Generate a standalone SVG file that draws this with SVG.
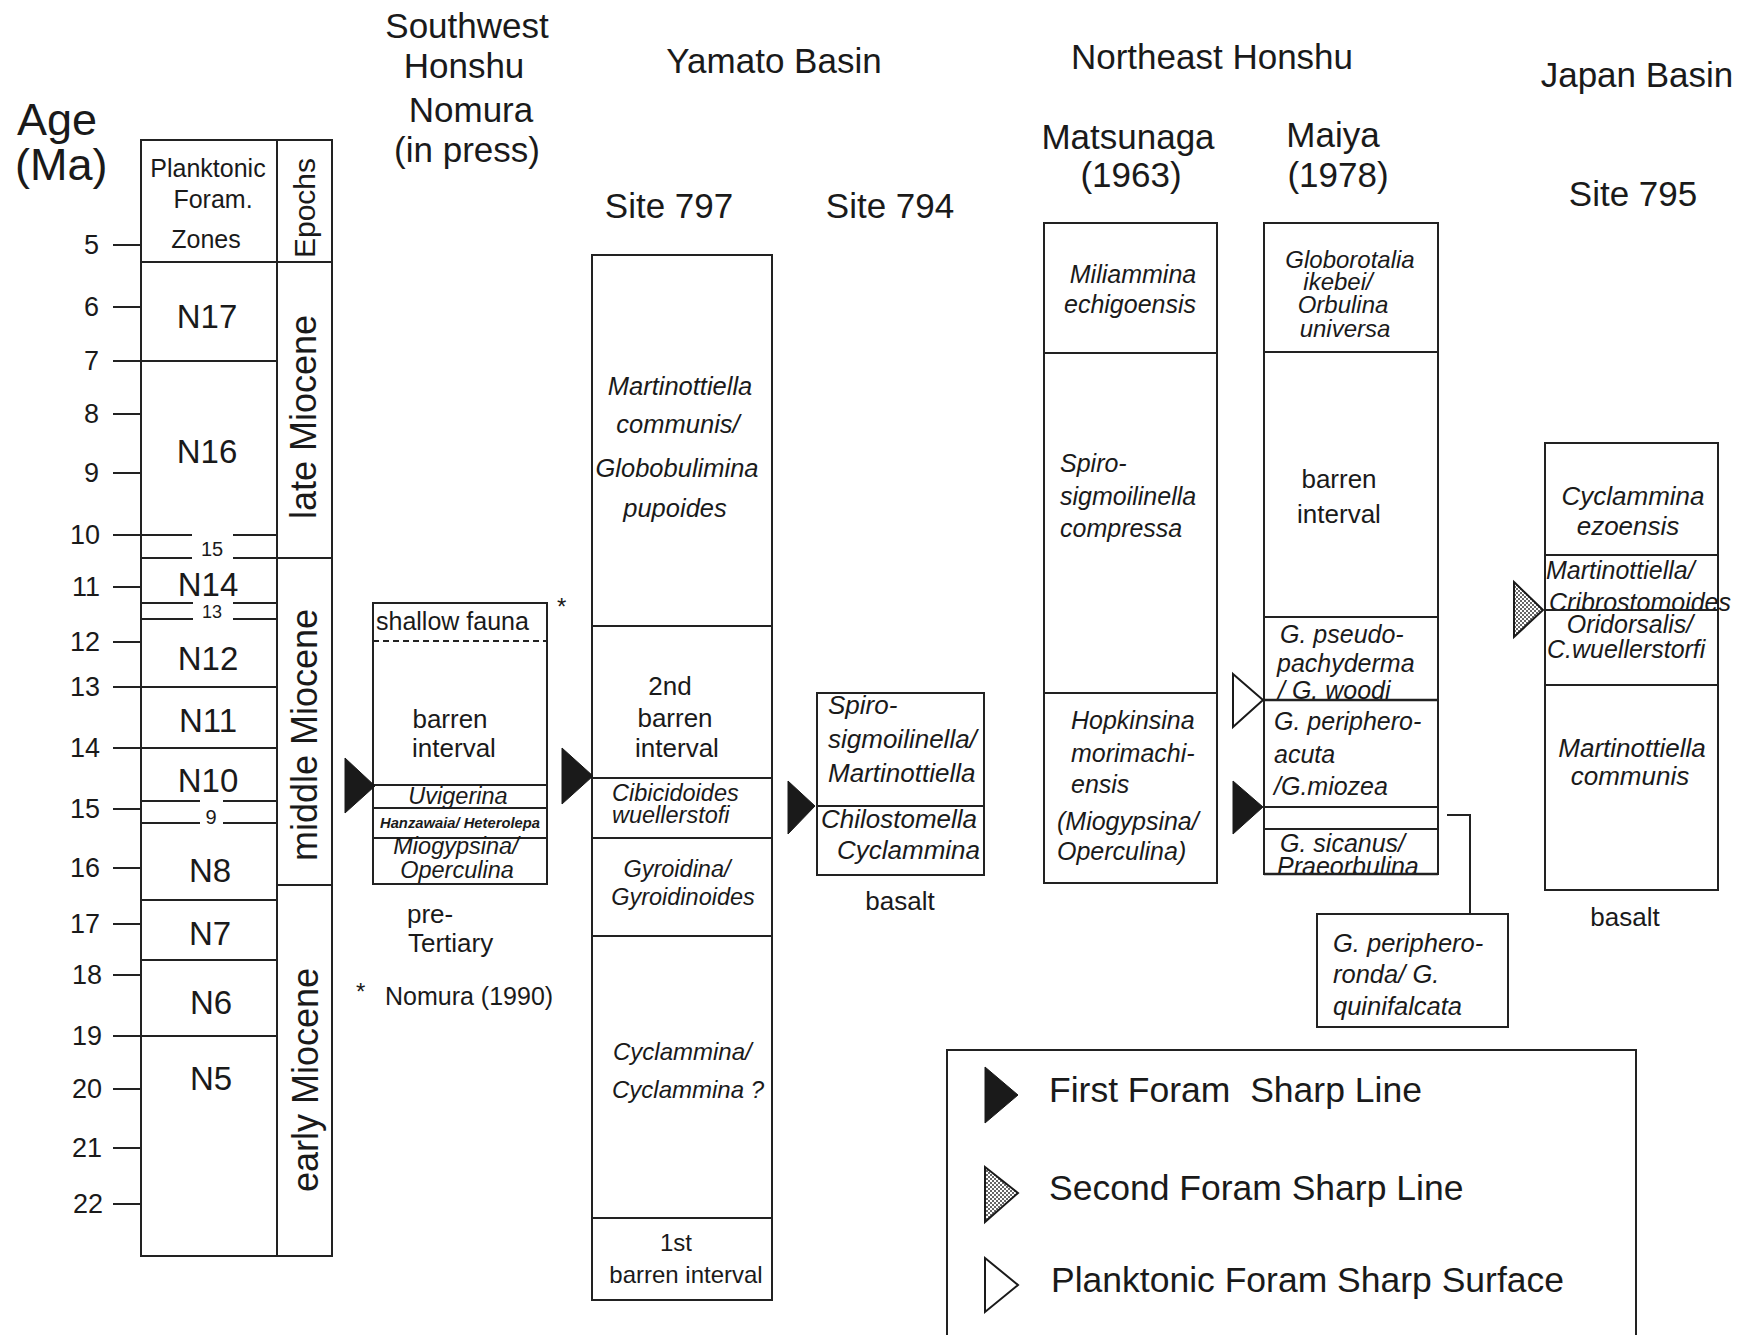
<svg xmlns="http://www.w3.org/2000/svg" width="1752" height="1335" viewBox="0 0 1752 1335">
<style>
.ln{stroke:#222;stroke-width:2;fill:none}
.bx{stroke:#222;stroke-width:2;fill:#fff}
.ds{stroke:#222;stroke-width:2;fill:none;stroke-dasharray:6 4}
text{font-family:"Liberation Sans",Arial,Helvetica,sans-serif;fill:#1a1a1a}
.h{font-size:35px}
.m{text-anchor:middle}
.e{text-anchor:end}
.i{font-style:italic}
.z{font-size:33px}
.n{font-size:27px}
.s25{font-size:25px}
.s26{font-size:26px}
.s23{font-size:23.5px}
.ep{font-size:36px}
.blk{fill:#1a1a1a;stroke:#1a1a1a;stroke-width:1}
.wht{fill:#fff;stroke:#1a1a1a;stroke-width:2}
.gry{fill:url(#stip);stroke:#1a1a1a;stroke-width:2}
</style>
<defs>
<pattern id="stip" width="4" height="4" patternUnits="userSpaceOnUse">
<rect width="4" height="4" fill="#fff"/>
<rect width="2" height="2" fill="#666"/>
<rect x="2" y="2" width="2" height="2" fill="#666"/>
</pattern>
</defs>
<rect width="1752" height="1335" fill="#fff"/>

<!-- Age scale / zones / epochs -->
<g id="age-scale">
<text x="17" y="135" style="font-size:45px">Age</text>
<text x="15" y="180" style="font-size:45px">(Ma)</text>
<rect class="bx" x="141" y="140" width="191" height="1116"/>
<path class="ln" d="M277,140V1256M141,262H332"/>
<!-- ticks -->
<path class="ln" d="M113,245H141M113,307H141M113,361H277M113,414H141M113,473H141M113,535H141M113,587H141M113,642H141M113,687H277M113,748H277M113,809H141M113,868H141M113,924H141M113,975H141M113,1036H277M113,1089H141M113,1148H141M113,1204H141"/>
<!-- zone boundaries -->
<path class="ln" d="M141,535H192M233,535H277M141,558H192M233,558H277M277,558H332M141,603H193M233,603H277M141,619H193M233,619H277M141,801H200M223,801H277M141,823H200M223,823H277M141,900H277M277,885H332M141,960H277"/>
<g class="n">
<text class="e n" x="99" y="254">5</text>
<text class="e n" x="99" y="316">6</text>
<text class="e n" x="99" y="370">7</text>
<text class="e n" x="99" y="423">8</text>
<text class="e n" x="99" y="482">9</text>
<text class="e n" x="100" y="544">10</text>
<text class="e n" x="100" y="596">11</text>
<text class="e n" x="100" y="651">12</text>
<text class="e n" x="100" y="696">13</text>
<text class="e n" x="100" y="757">14</text>
<text class="e n" x="100" y="818">15</text>
<text class="e n" x="100" y="877">16</text>
<text class="e n" x="100" y="933">17</text>
<text class="e n" x="102" y="984">18</text>
<text class="e n" x="102" y="1045">19</text>
<text class="e n" x="102" y="1098">20</text>
<text class="e n" x="102" y="1157">21</text>
<text class="e n" x="103" y="1213">22</text>
</g>
<text class="m s25" x="208" y="177">Planktonic</text>
<text class="m s25" x="213" y="208">Foram.</text>
<text class="m s25" x="206" y="248">Zones</text>
<text class="m z" x="207" y="328">N17</text>
<text class="m z" x="207" y="463">N16</text>
<text class="m" x="212" y="556" style="font-size:20px">15</text>
<text class="m z" x="208" y="596">N14</text>
<text class="m" x="212" y="618" style="font-size:18px">13</text>
<text class="m z" x="208" y="670">N12</text>
<text class="m z" x="208" y="732">N11</text>
<text class="m z" x="208" y="792">N10</text>
<text class="m" x="211" y="824" style="font-size:20px">9</text>
<text class="m z" x="210" y="882">N8</text>
<text class="m z" x="210" y="945">N7</text>
<text class="m z" x="211" y="1014">N6</text>
<text class="m z" x="211" y="1090">N5</text>
<text class="m" transform="translate(315,208) rotate(-90)" style="font-size:30px">Epochs</text>
<text class="m ep" transform="translate(316,417) rotate(-90)">late Miocene</text>
<text class="m ep" transform="translate(317,735) rotate(-90)">middle Miocene</text>
<text class="m ep" transform="translate(318,1080) rotate(-90)">early Miocene</text>
</g>

<!-- Southwest Honshu -->
<g id="col-sw-honshu">
<text class="m h" x="467" y="38">Southwest</text>
<text class="m h" x="464" y="78">Honshu</text>
<text class="m h" x="471" y="122">Nomura</text>
<text class="m h" x="467" y="162">(in press)</text>
<rect class="bx" x="373" y="603" width="174" height="281"/>
<path class="ds" d="M373,641H547"/>
<path class="ln" d="M373,785H547M373,808H547M373,838H547"/>
<text class="s25" x="376" y="630">shallow fauna</text>
<text x="557" y="615" style="font-size:24px">*</text>
<text class="m s26" x="450" y="728">barren</text>
<text class="m s26" x="454" y="757">interval</text>
<text class="m i s23" x="458" y="804">Uvigerina</text>
<text class="m i" x="460" y="828" style="font-size:14px;font-weight:bold" textLength="160" lengthAdjust="spacingAndGlyphs">Hanzawaia/ Heterolepa</text>
<text class="m i s23" x="456" y="854">Miogypsina/</text>
<text class="m i s23" x="457" y="878">Operculina</text>
<text class="s26" x="407" y="923">pre-</text>
<text class="s26" x="408" y="952">Tertiary</text>
<text x="356" y="1000" style="font-size:24px">*</text>
<text class="s25" x="385" y="1005">Nomura (1990)</text>
<polygon class="blk" points="345,758 375,786 345,813"/>
</g>

<!-- Yamato Basin: Site 797 -->
<g id="col-site797">
<text class="m h" x="774" y="73">Yamato Basin</text>
<text class="m h" x="669" y="218">Site 797</text>
<rect class="bx" x="592" y="255" width="180" height="1045"/>
<path class="ln" d="M592,626H772M592,778H772M592,838H772M592,936H772M592,1218H772"/>
<g class="i" style="font-size:25.5px">
<text class="m i" x="680" y="395">Martinottiella</text>
<text class="m i" x="678" y="433">communis/</text>
<text class="m i" x="677" y="477">Globobulimina</text>
<text class="m i" x="675" y="517">pupoides</text>
</g>
<text class="m s26" x="670" y="695">2nd</text>
<text class="m s26" x="675" y="727">barren</text>
<text class="m s26" x="677" y="757">interval</text>
<text class="i s23" x="612" y="801">Cibicidoides</text>
<text class="i s23" x="612" y="823">wuellerstofi</text>
<text class="m i s23" x="677" y="877">Gyroidina/</text>
<text class="m i s23" x="683" y="905">Gyroidinoides</text>
<text class="i" x="613" y="1060" style="font-size:24px">Cyclammina/</text>
<text class="i" x="612" y="1098" style="font-size:24px">Cyclammina ?</text>
<text class="m" x="676" y="1251" style="font-size:24px">1st</text>
<text class="m" x="686" y="1283" style="font-size:24px">barren interval</text>
<polygon class="blk" points="562,748 593,776 562,804"/>
</g>

<!-- Yamato Basin: Site 794 -->
<g id="col-site794">
<text class="m h" x="890" y="218">Site 794</text>
<rect class="bx" x="817" y="693" width="167" height="182"/>
<path class="ln" d="M817,806H984"/>
<text class="i s26" x="828" y="714">Spiro-</text>
<text class="i s26" x="828" y="748">sigmoilinella/</text>
<text class="i s26" x="828" y="782">Martinottiella</text>
<text class="i s26" x="821" y="828">Chilostomella</text>
<text class="i s26" x="837" y="859">Cyclammina</text>
<text class="m s26" x="900" y="910">basalt</text>
<polygon class="blk" points="788,781 815,806 788,834"/>
</g>

<!-- Northeast Honshu: Matsunaga -->
<g id="col-matsunaga">
<text class="m h" x="1212" y="69">Northeast Honshu</text>
<text class="m h" x="1128" y="149">Matsunaga</text>
<text class="m h" x="1131" y="187">(1963)</text>
<rect class="bx" x="1044" y="223" width="173" height="660"/>
<path class="ln" d="M1044,353H1217M1044,693H1217"/>
<text class="m i s25" x="1133" y="283">Miliammina</text>
<text class="m i s25" x="1130" y="313">echigoensis</text>
<text class="i s25" x="1060" y="472">Spiro-</text>
<text class="i s25" x="1060" y="505">sigmoilinella</text>
<text class="i s25" x="1060" y="537">compressa</text>
<text class="i s25" x="1071" y="729">Hopkinsina</text>
<text class="i s25" x="1071" y="762">morimachi-</text>
<text class="i s25" x="1071" y="793">ensis</text>
<text class="i s25" x="1057" y="830">(Miogypsina/</text>
<text class="i s25" x="1057" y="860">Operculina)</text>
</g>

<!-- Northeast Honshu: Maiya -->
<g id="col-maiya">
<text class="m h" x="1333" y="147">Maiya</text>
<text class="m h" x="1338" y="187">(1978)</text>
<rect class="bx" x="1264" y="223" width="174" height="651"/>
<path class="ln" d="M1264,352H1438M1264,617H1438M1264,807H1438M1264,829H1438"/>
<g style="font-size:24px">
<text class="m i" x="1350" y="268">Globorotalia</text>
<text class="m i" x="1338" y="290">ikebei/</text>
<text class="m i" x="1343" y="313">Orbulina</text>
<text class="m i" x="1345" y="337">universa</text>
</g>
<text class="m s26" x="1339" y="488">barren</text>
<text class="m s26" x="1339" y="523">interval</text>
<text class="i s25" x="1280" y="643">G. pseudo-</text>
<text class="i s25" x="1277" y="672">pachyderma</text>
<text class="i s25" x="1278" y="699">/ G. woodi</text>
<text class="i s25" x="1274" y="730">G. periphero-</text>
<text class="i s25" x="1274" y="763">acuta</text>
<text class="i s25" x="1274" y="795">/G.miozea</text>
<text class="i s25" x="1280" y="852">G. sicanus/</text>
<text class="i s25" x="1277" y="875">Praeorbulina</text>
<path class="ln" d="M1264,700H1438M1264,874H1438" style="stroke-width:2.5"/>
<polygon class="wht" points="1233,674 1263,700 1233,727"/>
<polygon class="blk" points="1233,781 1263,807 1233,834"/>
</g>

<!-- Callout box -->
<g id="box-periphero">
<rect class="bx" x="1317" y="914" width="191" height="113"/>
<text class="i" x="1333" y="952" style="font-size:25.5px">G. periphero-</text>
<text class="i" x="1333" y="983" style="font-size:25.5px">ronda/ G.</text>
<text class="i" x="1333" y="1015" style="font-size:25.5px">quinifalcata</text>
</g>

<!-- Japan Basin: Site 795 -->
<g id="col-site795">
<text class="m h" x="1637" y="87">Japan Basin</text>
<text class="m h" x="1633" y="206">Site 795</text>
<rect class="bx" x="1545" y="443" width="173" height="447"/>
<path class="ln" d="M1545,555H1718M1545,685H1718"/>
<text class="m i s26" x="1633" y="505">Cyclammina</text>
<text class="m i s26" x="1628" y="535">ezoensis</text>
<g style="font-size:25px">
<text class="i" x="1546" y="579">Martinottiella/</text>
<text class="i" x="1549" y="611">Cribrostomoides</text>
<text class="m i" x="1630" y="633">Oridorsalis/</text>
<text class="i" x="1547" y="658">C.wuellerstorfi</text>
</g>
<path class="ln" d="M1545,610H1718"/>
<text class="m i s26" x="1632" y="757">Martinottiella</text>
<text class="m i s26" x="1630" y="785">communis</text>
<text class="m s26" x="1625" y="926">basalt</text>
<polygon class="gry" points="1514,582 1543,610 1514,637"/>
</g>

<!-- Connectors -->
<g id="connectors">
<polyline class="ln" points="1447,815 1470,815 1470,914"/>
</g>

<!-- Legend -->
<g id="legend">
<path class="ln" d="M947,1340V1050H1636V1340"/>
<polygon class="blk" points="985,1067 1018,1095 985,1123"/>
<polygon class="gry" points="985,1167 1018,1193 985,1222"/>
<polygon class="wht" points="985,1258 1018,1285 985,1312"/>
<text x="1049" y="1102" style="font-size:35.5px" xml:space="preserve">First Foram  Sharp Line</text>
<text x="1049" y="1200" style="font-size:35.5px">Second Foram Sharp Line</text>
<text x="1051" y="1292" style="font-size:35.5px">Planktonic Foram Sharp Surface</text>
</g>
</svg>
